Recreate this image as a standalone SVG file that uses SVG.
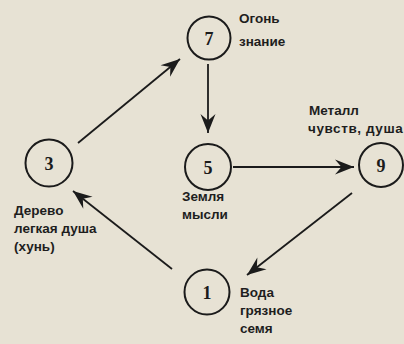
<svg xmlns="http://www.w3.org/2000/svg" width="404" height="344" viewBox="0 0 404 344">
<style>
.bg{fill:#e7e2d4}
.node circle{fill:none;stroke:#1b1b1b;stroke-width:2}
.num{font-family:"Liberation Serif",serif;font-weight:bold;font-size:18px;fill:#1b1b1b;text-anchor:middle}
.lbl{font-family:"Liberation Sans",Arial,sans-serif;font-weight:bold;font-size:13.5px;fill:#1e1e1e}
.edge line{stroke:#1b1b1b;stroke-width:1.8;marker-end:url(#ah)}
</style>
<defs>
<marker id="ah" markerUnits="userSpaceOnUse" viewBox="-20 -8 21 16" markerWidth="21" markerHeight="16" refX="0" refY="0" orient="auto">
<path d="M0,0 L-19,-7.5 L-12.5,0 L-19,7.5 Z" fill="#1b1b1b"/>
</marker>
</defs>
<rect class="bg" x="0" y="0" width="404" height="344"/>
<g id="connectors" class="edge">
<line x1="78" y1="143" x2="180" y2="59"/>
<line x1="208" y1="64" x2="208" y2="133"/>
<line x1="233" y1="167" x2="354" y2="167"/>
<line x1="352" y1="193" x2="247" y2="275"/>
<line x1="172" y1="269" x2="73" y2="191"/>
</g>
<g id="node7" class="node">
<circle cx="209" cy="38" r="21.5"/>
<text class="num" x="209" y="44.5">7</text>
<text class="lbl" x="239" y="23">Огонь</text>
<text class="lbl" x="239" y="46">знание</text>
</g>
<g id="node3" class="node">
<circle cx="49" cy="163" r="23.5"/>
<text class="num" x="49" y="169.5">3</text>
<text class="lbl" x="14" y="215">Дерево</text>
<text class="lbl" x="14" y="233">легкая душа</text>
<text class="lbl" x="14" y="251">(хунь)</text>
</g>
<g id="node5" class="node">
<circle cx="208" cy="167" r="23"/>
<text class="num" x="208" y="173.5">5</text>
<text class="lbl" x="182" y="201">Земля</text>
<text class="lbl" x="182" y="219">мысли</text>
</g>
<g id="node9" class="node">
<circle cx="381" cy="165" r="22"/>
<text class="num" x="381" y="171.5">9</text>
<text class="lbl" x="309" y="115">Металл</text>
<text class="lbl" x="308" y="133" letter-spacing="0.6">чувств, душа</text>
</g>
<g id="node1" class="node">
<circle cx="207" cy="292" r="22.5"/>
<text class="num" x="207" y="298.5">1</text>
<text class="lbl" x="240" y="297">Вода</text>
<text class="lbl" x="240" y="315">грязное</text>
<text class="lbl" x="240" y="333">семя</text>
</g>
</svg>
